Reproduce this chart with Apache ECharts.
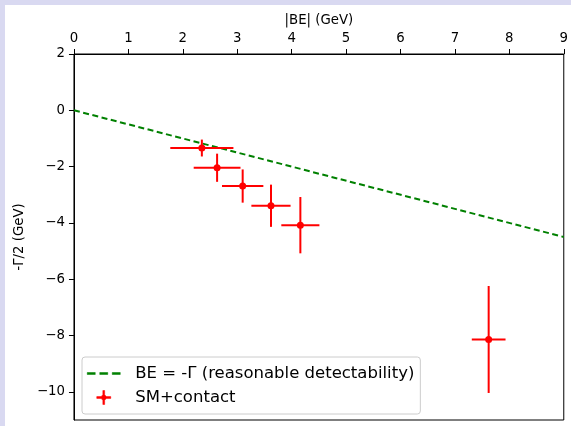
<!DOCTYPE html>
<html>
<head>
<meta charset="utf-8">
<script src="https://cdn.jsdelivr.net/npm/echarts@6/dist/echarts.min.js"></script>
<style>
  html, body { margin: 0; padding: 0; background: #d9d9f1; width: 571px; height: 426px; overflow: hidden; }
  #chart { position: absolute; left: 5px; top: 5px; width: 566px; height: 421px; background: #ffffff; }
</style>
</head>
<body>
<div id="chart"></div>
<script>
// Binding energy |BE| (GeV) of each state and its horizontal uncertainty
const beValues = [2.35, 2.63, 3.10, 3.62, 4.16, 7.62];
const beErrors = [0.58, 0.43, 0.38, 0.36, 0.35, 0.31];
// Half width -Γ/2 (GeV) and its vertical uncertainty
const halfWidthValues = [-1.34, -2.04, -2.69, -3.39, -4.08, -8.14];
const halfWidthErrors = [0.30, 0.50, 0.59, 0.75, 1.00, 1.90];
// Detectability boundary BE = -Γ, i.e. -Γ/2 = -|BE|/2
const boundaryX = [0, 9];
const boundaryY = [0, -4.5];
// Axis ticks
const xTicks = [0, 1, 2, 3, 4, 5, 6, 7, 8, 9];
const yTicks = [2, 0, -2, -4, -6, -8, -10];

const FONT = 'DejaVu Sans';
const minus = v => String(v).replace('-', '\u2212');

const errorData = beValues.map((x, i) => [x, halfWidthValues[i], beErrors[i], halfWidthErrors[i]]);
const pointData = beValues.map((x, i) => [x, halfWidthValues[i]]);
const lineData = boundaryX.map((x, i) => [x, boundaryY[i]]);

const LINE_NAME = 'BE = -\u0393 (reasonable detectability)';
const POINT_NAME = 'SM+contact';

// Legend glyph: error-bar cross with a dot in the middle, as one outline
const CROSS_ICON = 'path://M6.1,0L7.9,0L7.9,4.41L8.07,4.41L9.59,5.93L9.59,6.1L14,6.1L14,7.9L9.59,7.9L9.59,8.07' +
  'L8.07,9.59L7.9,9.59L7.9,14L6.1,14L6.1,9.59L5.93,9.59L4.41,8.07L4.41,7.9L0,7.9L0,6.1L4.41,6.1' +
  'L4.41,5.93L5.93,4.41L6.1,4.41Z';
const DASH_ICON = 'path://M0,0L8,0L8,2L0,2Z M12.5,0L20.5,0L20.5,2L12.5,2Z M25,0L33,0L33,2L25,2Z';

const chart = echarts.init(document.getElementById('chart'), null, { renderer: 'canvas' });

chart.setOption({
  backgroundColor: '#ffffff',
  animation: false,
  textStyle: { fontFamily: FONT },
  grid: { left: 67, right: 7, top: 49, bottom: 6, show: true, borderColor: '#000', borderWidth: 1, backgroundColor: '#fff' },
  xAxis: {
    type: 'value', position: 'top', min: 0, max: 9, interval: 1,
    name: '|BE| (GeV)', nameLocation: 'middle', nameGap: 27,
    nameTextStyle: { fontFamily: FONT, fontSize: 13.3, color: '#000' },
    axisLine: { show: true, onZero: false, lineStyle: { color: '#000', width: 1 } },
    axisTick: { show: true, inside: false, length: 5, lineStyle: { color: '#000', width: 1 }, customValues: xTicks },
    axisLabel: { fontFamily: FONT, fontSize: 13.3, color: '#000', margin: 9, customValues: xTicks },
    splitLine: { show: false }
  },
  yAxis: {
    type: 'value', min: -11, max: 2,
    name: '-\u0393/2 (GeV)', nameLocation: 'middle', nameGap: 44, nameRotate: 90,
    nameTextStyle: { fontFamily: FONT, fontSize: 13.3, color: '#000' },
    axisLine: { show: true, onZero: false, lineStyle: { color: '#000', width: 1 } },
    axisTick: { show: true, inside: false, length: 5, lineStyle: { color: '#000', width: 1 }, customValues: yTicks },
    axisLabel: { fontFamily: FONT, fontSize: 13.3, color: '#000', margin: 9, customValues: yTicks, formatter: minus },
    splitLine: { show: false }
  },
  legend: {
    orient: 'vertical', left: 77, top: 352,
    padding: [8, 6, 8, 5], itemGap: 7, itemWidth: 33, itemHeight: 14,
    backgroundColor: 'rgba(255,255,255,0.8)', borderColor: '#cccccc', borderWidth: 1, borderRadius: 3,
    textStyle: { fontFamily: FONT, fontSize: 16.5, lineHeight: 14, color: '#000', padding: [0, 0, 0, 10] },
    data: [
      { name: LINE_NAME, icon: DASH_ICON,
        itemStyle: { color: '#008000', borderColor: '#008000', borderWidth: 0.5 } },
      { name: POINT_NAME, icon: CROSS_ICON,
        itemStyle: { color: '#ff0000', borderColor: '#ff0000', borderWidth: 0.5 } }
    ]
  },
  series: [
    {
      name: LINE_NAME,
      type: 'line',
      data: lineData,
      symbol: 'none',
      lineStyle: { color: '#008000', width: 2, type: [6, 3.5] },
      itemStyle: { color: '#008000' },
      z: 2
    },
    {
      // horizontal and vertical error bars
      name: 'SM+contact errors',
      type: 'custom',
      data: errorData,
      z: 3,
      renderItem: function (params, api) {
        const x = api.value(0), y = api.value(1), dx = api.value(2), dy = api.value(3);
        const left = api.coord([x - dx, y]);
        const right = api.coord([x + dx, y]);
        const top = api.coord([x, y + dy]);
        const bottom = api.coord([x, y - dy]);
        const stroke = { stroke: '#ff0000', lineWidth: 2 };
        return {
          type: 'group',
          children: [
            { type: 'line', shape: { x1: left[0], y1: left[1], x2: right[0], y2: right[1] }, style: stroke },
            { type: 'line', shape: { x1: top[0], y1: top[1], x2: bottom[0], y2: bottom[1] }, style: stroke }
          ]
        };
      }
    },
    {
      // central values
      name: POINT_NAME,
      type: 'scatter',
      data: pointData,
      symbol: 'circle',
      symbolSize: 7,
      itemStyle: { color: '#ff0000', opacity: 1 },
      z: 4
    }
  ]
});
</script>
</body>
</html>
